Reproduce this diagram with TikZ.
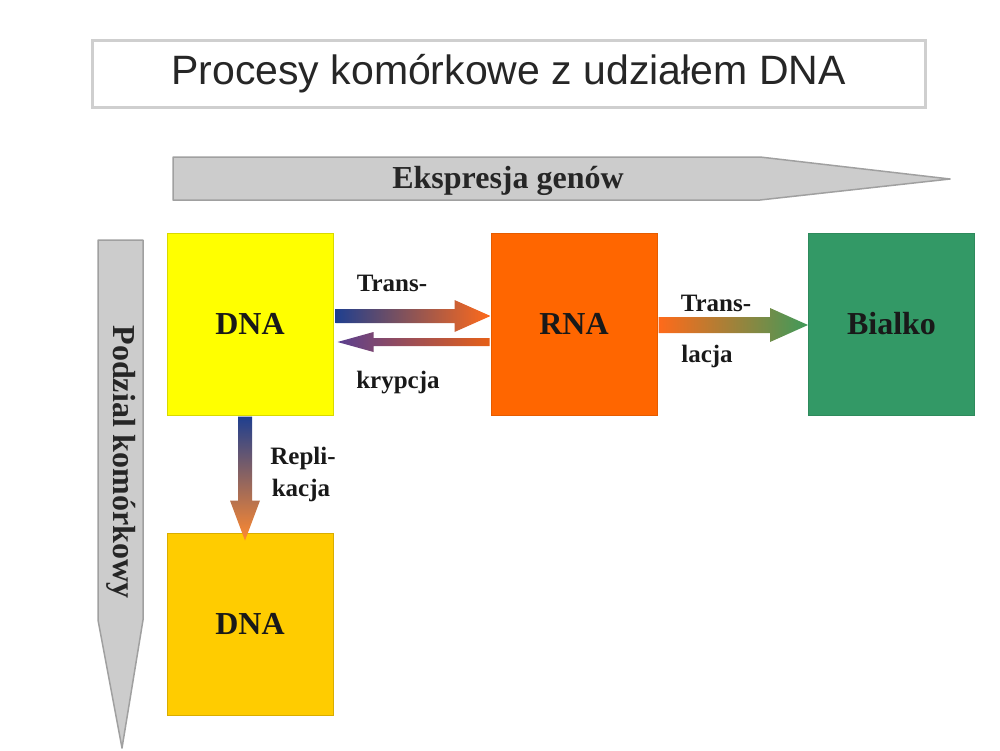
\documentclass[tikz,border=0pt]{standalone}
\usepackage{fontspec}
\setmainfont{Liberation Serif}
\newfontfamily\arialf{Liberation Sans}
\usetikzlibrary{calc}
\definecolor{dnayellow}{HTML}{FFFF00}
\definecolor{dnagold}{HTML}{FFCC00}
\definecolor{rnaorange}{HTML}{FF6600}
\definecolor{protgreen}{HTML}{339966}
\definecolor{titlegray}{HTML}{CFCFCF}
\definecolor{arrgray}{HTML}{CCCCCC}
\definecolor{arrgrayline}{HTML}{A0A0A0}
\definecolor{arrblue}{HTML}{1F3F8F}
\definecolor{arrpurple}{HTML}{5A3F8F}
\definecolor{arrorange}{HTML}{FF6A1A}
\definecolor{arrorange2}{HTML}{FF8A30}
\definecolor{arrgreen}{HTML}{3F9A5A}
\begin{document}
\begin{tikzpicture}[x=1pt,y=-1pt,
  box/.style={minimum width=166pt, minimum height=182pt, inner sep=0pt, line width=1pt,
    text=black!90, font=\bfseries\fontsize{32}{36}\selectfont},
  grayarrow/.style={fill=arrgray, draw=arrgrayline, line width=1.5pt, line join=round},
  graylabel/.style={font=\bfseries\fontsize{32}{36}\selectfont, text=black!85, inner sep=0pt},
  smalllabel/.style={font=\bfseries\fontsize{25}{28}\selectfont, text=black!90, inner sep=0pt}]
\useasboundingbox (0,0) rectangle (1000,750);

% title
\node[draw=titlegray, line width=3pt, fill=white, minimum width=833pt, minimum height=67pt,
  font=\arialf\fontsize{41}{48}\selectfont, text=black!85] (title) at (508.5,73.5)
  {Procesy komórkowe z udziałem DNA};

% big gray arrows
\draw[grayarrow] (173,157) -- (760,157) -- (950,179) -- (760,200) -- (173,200) -- cycle;
\node[graylabel] (expr) at (508,181) {Ekspresja genów};
\draw[grayarrow] (98,240) -- (143,240) -- (143,620) -- (122,748) -- (98,620) -- cycle;
\node[graylabel, rotate=-90] (podz) at (121,462) {Podzial komórkowy};

% boxes
\node[box, fill=dnayellow, draw=dnayellow!85!black] (dna) at (250,324) {DNA};
\node[box, fill=rnaorange, draw=rnaorange!90!black] (rna) at (574,324) {RNA};
\node[box, fill=protgreen, draw=protgreen!90!black] (prot) at (891.5,324) {Bialko};
\node[box, fill=dnagold, draw=dnagold!85!black] (dnab) at (250,624) {DNA};

% transcription forward
\coordinate (ts) at ($(dna.east)+(2,-8)$);
\coordinate (te) at ($(rna.west)+(0,-8)$);
\shade[left color=arrblue, right color=arrorange]
  ($(ts)+(0,-7)$) -- ($(te)+(-36,-7)$) -- ($(te)+(-36,-16)$) -- (te) --
  ($(te)+(-36,16)$) -- ($(te)+(-36,7)$) -- ($(ts)+(0,7)$) -- cycle;
% transcription backward
\coordinate (bs) at ($(rna.west)+(-1,18)$);
\coordinate (be) at ($(dna.east)+(4,18)$);
\shade[left color=arrpurple, right color=arrorange!90!black]
  ($(bs)+(0,-4)$) -- ($(be)+(36,-4)$) -- ($(be)+(36,-10)$) -- (be) --
  ($(be)+(36,10)$) -- ($(be)+(36,4)$) -- ($(bs)+(0,4)$) -- cycle;
\node[smalllabel] (trans1) at (392,283) {Trans-};
\node[smalllabel] (kryp) at (398,383) {krypcja};

% translation
\coordinate (ls) at ($(rna.east)+(1,1)$);
\coordinate (le) at ($(prot.west)+(0,1)$);
\shade[left color=arrorange, right color=arrgreen]
  ($(ls)+(0,-8)$) -- ($(le)+(-38,-8)$) -- ($(le)+(-38,-17)$) -- (le) --
  ($(le)+(-38,17)$) -- ($(le)+(-38,8)$) -- ($(ls)+(0,8)$) -- cycle;
\node[smalllabel] (trans2) at (716,303) {Trans-};
\node[smalllabel] (lacja) at (707,356) {lacja};

% replication
\coordinate (rs) at ($(dna.south)+(-5,1)$);
\coordinate (re) at ($(dnab.north)+(-5,8)$);
\shade[top color=arrblue, bottom color=arrorange2]
  ($(rs)+(-7,0)$) -- ($(re)+(-7,-40)$) -- ($(re)+(-15,-40)$) -- (re) --
  ($(re)+(15,-40)$) -- ($(re)+(7,-40)$) -- ($(rs)+(7,0)$) -- cycle;
\node[smalllabel] (repli) at (303,458) {Repli-};
\node[smalllabel] (kacja) at (301,490) {kacja};
\end{tikzpicture}
\end{document}
